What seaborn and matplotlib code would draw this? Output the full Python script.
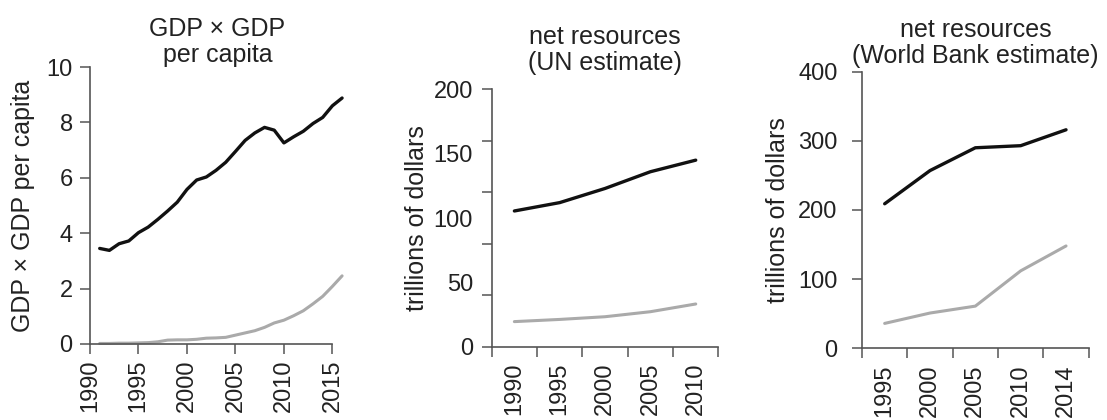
import numpy as np
import pandas as pd
import matplotlib
matplotlib.use("Agg")
import matplotlib.pyplot as plt
import seaborn as sns

# ------------------------------
# data
# ------------------------------
gdp_years = list(range(1991, 2017))
gdp_black = [3.45, 3.38, 3.62, 3.72, 4.02, 4.22, 4.50, 4.80, 5.12, 5.58,
             5.92, 6.03, 6.27, 6.56, 6.95, 7.35, 7.62, 7.82, 7.72, 7.26,
             7.48, 7.68, 7.96, 8.18, 8.60, 8.88]
gdp_gray = [0.02, 0.02, 0.03, 0.03, 0.04, 0.05, 0.08, 0.14, 0.15, 0.15,
            0.17, 0.21, 0.22, 0.24, 0.32, 0.40, 0.48, 0.60, 0.76, 0.86,
            1.02, 1.20, 1.45, 1.72, 2.08, 2.46]

un_years = [1990, 1995, 2000, 2005, 2010]
un_black = [105.5, 112.0, 123.0, 136.0, 145.0]
un_gray = [19.5, 21.2, 23.3, 27.2, 33.2]

wb_labels = ['1995', '2000', '2005', '2010', '2014']
wb_black = [209, 257, 290, 293, 316]
wb_gray = [36, 51, 61, 112, 148]

BLACK = '#111111'
GRAY = '#aaaaaa'
AXC = '#555555'
TXT = '#222222'

sns.set_theme(style="ticks")
plt.rcParams['font.family'] = ['Liberation Sans', 'DejaVu Sans']
plt.rcParams['text.color'] = TXT
plt.rcParams['axes.labelcolor'] = TXT

fig = plt.figure(figsize=(11.07, 4.2), dpi=100)
ax1 = fig.add_axes([90 / 1107, 76 / 420, 255 / 1107, 277 / 420])
ax2 = fig.add_axes([491.7 / 1107, 73.3 / 420, 226.7 / 1107, 257.3 / 420])
ax3 = fig.add_axes([862 / 1107, 71.7 / 420, 226.7 / 1107, 276.6 / 420])

FS = 17   # tick labels
TS = 18   # titles and axis labels


def style_axes(ax):
    sns.despine(ax=ax)
    for s in ['left', 'bottom']:
        ax.spines[s].set_color(AXC)
        ax.spines[s].set_linewidth(1.2)
    ax.tick_params(which='both', colors=AXC, labelcolor=TXT, labelsize=FS,
                   width=1.1, length=7.5, direction='out')


# panel 1: GDP x GDP per capita
df1 = pd.DataFrame({'year': gdp_years, 'black': gdp_black, 'gray': gdp_gray})
sns.lineplot(data=df1, x='year', y='black', ax=ax1, color=BLACK, lw=2.4, clip_on=False)
sns.lineplot(data=df1, x='year', y='gray', ax=ax1, color=GRAY, lw=2.2, clip_on=False)
style_axes(ax1)
ax1.set_xlim(1990, 2016.3)
ax1.set_ylim(0, 10)
ax1.spines['bottom'].set_bounds(1990, 2015)
ax1.set_xticks(range(1990, 2016, 5))
ax1.set_yticks(range(0, 11, 2))
ax1.tick_params(axis='x', rotation=90, pad=3.5)
ax1.tick_params(axis='y', pad=5)
ax1.set_ylabel('GDP × GDP per capita', fontsize=TS, labelpad=8)
ax1.set_title('GDP × GDP\nper capita', fontsize=TS, pad=3, linespacing=1.1)

# panel 2: UN estimate (labels sit between the tick marks)
df2 = pd.DataFrame({'year': un_years, 'black': un_black, 'gray': un_gray})
sns.lineplot(data=df2, x='year', y='black', ax=ax2, color=BLACK, lw=2.4)
sns.lineplot(data=df2, x='year', y='gray', ax=ax2, color=GRAY, lw=2.2)
style_axes(ax2)
ax2.xaxis.remove_overlapping_locs = False
ax2.yaxis.remove_overlapping_locs = False
ax2.set_xlim(1987.5, 2012.5)
ax2.set_ylim(0, 200)
ax2.set_xticks(np.arange(1987.5, 2013, 5), labels=[])
ax2.set_xticks(un_years, labels=[str(y) for y in un_years], minor=True)
ax2.set_yticks(range(0, 201, 40), labels=[])
ax2.set_yticks(range(0, 201, 50), labels=[str(v) for v in range(0, 201, 50)], minor=True)
ax2.tick_params(which='minor', length=0)
ax2.tick_params(axis='x', which='minor', rotation=90, pad=11.5)
ax2.tick_params(axis='y', which='minor', pad=13.5)
ax2.set_ylabel('trillions of dollars', fontsize=TS, labelpad=3)
ax2.set_title('net resources\n(UN estimate)', fontsize=TS, pad=14, linespacing=1.1)

# panel 3: World Bank estimate
df3 = pd.DataFrame({'year': wb_labels, 'black': wb_black, 'gray': wb_gray})
sns.lineplot(data=df3, x='year', y='black', ax=ax3, color=BLACK, lw=2.4)
sns.lineplot(data=df3, x='year', y='gray', ax=ax3, color=GRAY, lw=2.2)
style_axes(ax3)
ax3.set_xlim(-0.5, 4.5)
ax3.set_ylim(0, 400)
ax3.set_xticks(np.arange(-0.5, 5, 1), labels=[])
ax3.set_xticks(range(len(wb_labels)), labels=wb_labels, minor=True)
ax3.set_yticks(range(0, 401, 100))
ax3.tick_params(axis='x', which='minor', length=0, rotation=90, pad=12)
ax3.tick_params(axis='y', pad=10)
ax3.set_ylabel('trillions of dollars', fontsize=TS, labelpad=6)
ax3.set_title('net resources\n(World Bank estimate)', fontsize=TS, pad=6.5, linespacing=1.1)

for ax in (ax1, ax2, ax3):
    ax.set_xlabel('')

fig.savefig('out.png', dpi=100)
